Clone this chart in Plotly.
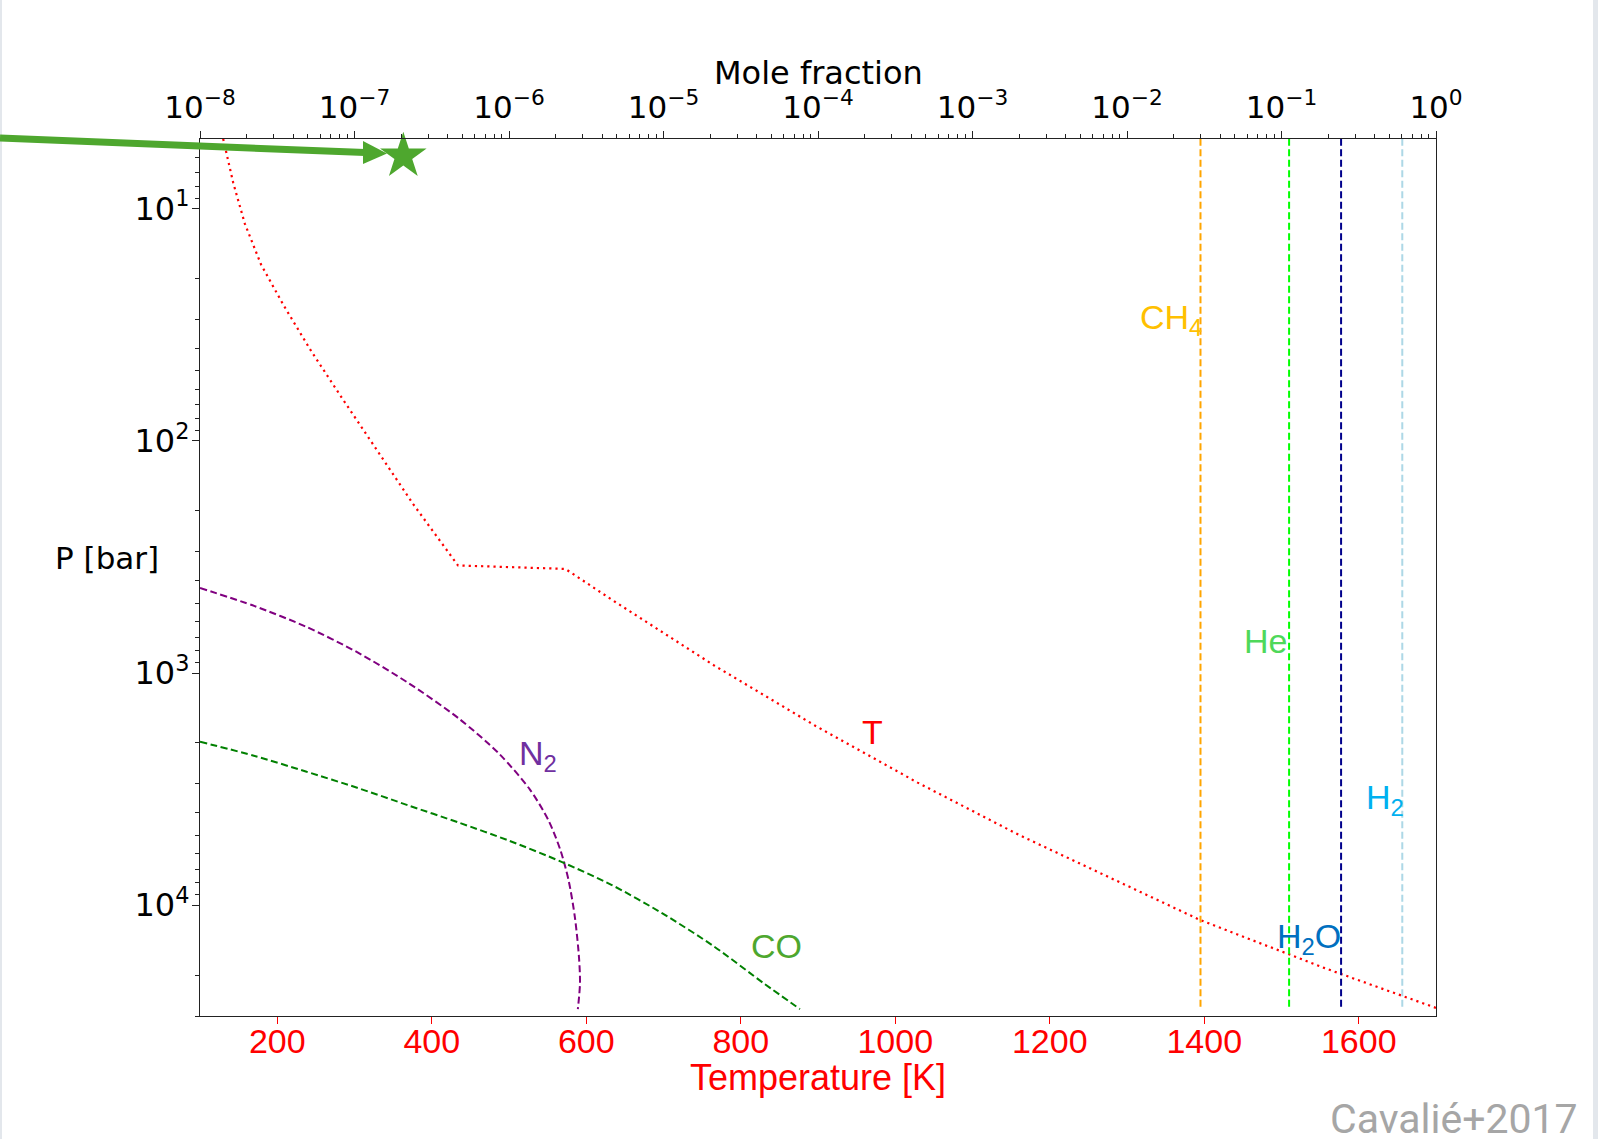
import numpy as np
import plotly.graph_objects as go

# ---------------- data ----------------
# Temperature profile (bottom axis, K) vs pressure (bar)
t_temperature = [130, 143, 158, 179, 208, 244, 283, 327, 376, 434, 573, 633, 765, 897, 1029, 1160, 1292, 1395, 1556, 1700]
t_pressure    = [5.0, 7.74, 11.6, 17.4, 26.0, 41.1, 64.8, 107.5, 187.4, 344, 356, 483, 925, 1690, 2965, 4977, 8000, 11590, 18660, 27670]

# N2 mole fraction profile
n2_fraction = [1.0e-8, 2.26e-8, 4.84e-8, 1.04e-7, 2.21e-7, 4.72e-7, 8.67e-7, 1.37e-6, 1.80e-6, 2.16e-6, 2.44e-6, 2.67e-6, 2.84e-6, 2.88e-6, 2.79e-6]
n2_pressure = [430, 515, 631, 813, 1099, 1567, 2233, 3184, 4306, 5834, 7907, 11270, 16870, 21730, 28000]

# CO mole fraction profile
co_fraction = [1.0e-8, 2.26e-8, 4.84e-8, 1.04e-7, 2.21e-7, 4.72e-7, 1.01e-6, 2.15e-6, 4.60e-6, 9.84e-6, 2.10e-5, 4.49e-5, 7.64e-5]
co_pressure = [1977, 2275, 2655, 3119, 3707, 4403, 5284, 6471, 8166, 10840, 14970, 21770, 28000]

# constant mole fractions
species_names = ["CH4", "He", "H2O", "H2"]
species_fraction = [0.0299, 0.112, 0.243, 0.605]
species_colors = ["#FFA500", "#00FF00", "#00008B", "#ADD8E6"]
column_pressure = [5.0, 28000]

# star (observation point)
star_fraction = [2.07e-7]
star_pressure = [5.94]

temp_ticks = [200, 400, 600, 800, 1000, 1200, 1400, 1600]
frac_exponents = [-8, -7, -6, -5, -4, -3, -2, -1, 0]
pres_exponents = [1, 2, 3, 4]

# ---------------- layout geometry ----------------
W, H = 1598, 1139
L, R, TOP, BOT = 200, 1436, 139, 1016


def px(x):
    return (x - L) / (R - L)


def py(y):
    return (BOT - y) / (BOT - TOP)


def pow_label(e):
    s = str(e).replace("-", "\u2212")
    return f"10<sup>{s}</sup>"


DASH = "7px,3.5px"
fig = go.Figure()

# vertical constant-abundance lines
for name, val, col in zip(species_names, species_fraction, species_colors):
    fig.add_trace(go.Scatter(
        x=[val] * len(column_pressure), y=column_pressure, mode="lines",
        line=dict(color=col, width=2, dash=DASH), xaxis="x2", yaxis="y",
        showlegend=False, hoverinfo="skip"))

fig.add_trace(go.Scatter(x=n2_fraction, y=n2_pressure, mode="lines",
                         line=dict(color="#800080", width=2, dash=DASH, shape="spline", smoothing=0.8),
                         xaxis="x2", yaxis="y", showlegend=False))
fig.add_trace(go.Scatter(x=co_fraction, y=co_pressure, mode="lines",
                         line=dict(color="#008000", width=2, dash=DASH, shape="spline", smoothing=0.8),
                         xaxis="x2", yaxis="y", showlegend=False))
fig.add_trace(go.Scatter(x=t_temperature, y=t_pressure, mode="lines",
                         line=dict(color="#FF0000", width=2.2, dash="2.2px,4px"),
                         xaxis="x", yaxis="y", showlegend=False))
fig.add_trace(go.Scatter(x=star_fraction, y=star_pressure, mode="markers",
                         marker=dict(symbol="star", size=35, color="#4EA72E", line=dict(width=0)),
                         xaxis="x2", yaxis="y", cliponaxis=False, showlegend=False))

# arrow (decoration, paper coordinates)
ARROW = "#4EA72E"
tail = (0, 138)
tip = (387, 153.5)
base = (363, 152.6)
fig.add_shape(type="line", xref="paper", yref="paper",
              x0=px(tail[0]), y0=py(tail[1]), x1=px(base[0] + 2), y1=py(base[1]),
              line=dict(color=ARROW, width=7))
hw = 11.5
fig.add_shape(type="path", xref="paper", yref="paper",
              path=f"M {px(tip[0])} {py(tip[1])} L {px(base[0])} {py(base[1] - hw)} L {px(base[0])} {py(base[1] + hw)} Z",
              fillcolor=ARROW, line=dict(color=ARROW, width=0))

# slide border bands
fig.add_shape(type="rect", xref="paper", yref="paper", x0=px(0), x1=px(2), y0=py(H), y1=py(0),
              fillcolor="#E3E7EC", line=dict(width=0), layer="below")
fig.add_shape(type="rect", xref="paper", yref="paper", x0=px(1593), x1=px(W), y0=py(H), y1=py(0),
              fillcolor="#E3E7EC", line=dict(width=0), layer="below")

DJ = "DejaVu Sans"
LS = "Liberation Sans, Arial, sans-serif"
AX = "#222222"

fig.update_layout(
    width=W, height=H,
    margin=dict(l=L, r=W - R, t=TOP, b=H - BOT, pad=0),
    paper_bgcolor="white", plot_bgcolor="white",
    showlegend=False,
    xaxis=dict(type="linear", range=[100, 1700], tickvals=temp_ticks, ticktext=[str(t) for t in temp_ticks],
               ticks="outside", ticklen=7, tickwidth=1, tickcolor="#FF0000",
               tickfont=dict(family=LS, size=34, color="#FF0000"), ticklabelstandoff=-12,
               showline=True, linecolor=AX, linewidth=1.3, showgrid=False, zeroline=False,
               automargin=False, anchor="y", side="bottom"),
    xaxis2=dict(type="log", range=[-8, 0],
                tickvals=[10.0 ** e for e in frac_exponents], ticktext=[pow_label(e) for e in frac_exponents],
                overlaying="x", side="top", anchor="y",
                ticks="outside", ticklen=7, tickwidth=1, tickcolor=AX,
                minor=dict(ticks="outside", ticklen=4, tickwidth=1, tickcolor=AX, dtick="D1", showgrid=False),
                tickfont=dict(family=DJ, size=31, color="black"), ticklabelstandoff=0,
                showline=True, linecolor=AX, linewidth=1.3, showgrid=False, zeroline=False,
                automargin=False),
    yaxis=dict(type="log", range=[4.477, 0.70],
               tickvals=[10.0 ** e for e in pres_exponents], ticktext=[pow_label(e) for e in pres_exponents],
               ticks="outside", ticklen=7, tickwidth=1, tickcolor=AX,
               minor=dict(ticks="outside", ticklen=4, tickwidth=1, tickcolor=AX, dtick="D1", showgrid=False),
               tickfont=dict(family=DJ, size=32, color="black"), ticklabelstandoff=-4,
               showline=True, linecolor=AX, linewidth=1.3, mirror=True, showgrid=False, zeroline=False,
               automargin=False),
)

annots = [
    # axis titles
    dict(text="Mole fraction", xref="paper", yref="paper", x=px(818), y=py(73),
         font=dict(family=DJ, size=32, color="black")),
    dict(text="Temperature [K]", xref="paper", yref="paper", x=px(818), y=py(1077),
         font=dict(family=LS, size=36, color="#FF0000")),
    dict(text="P [bar]", xref="paper", yref="paper", x=px(107), y=py(558),
         font=dict(family=DJ, size=31, color="black")),
    dict(text="Cavalié+2017", xref="paper", yref="paper", x=px(1454), y=py(1119),
         font=dict(family="Roboto, sans-serif", size=41, color="#A6A6A6")),
    # curve labels
    dict(text="CH<sub>4</sub>", xref="x2", yref="y", x=np.log10(0.0194), y=np.log10(30.0),
         font=dict(family=LS, size=34, color="#FFC000")),
    dict(text="He", xref="x2", yref="y", x=np.log10(0.0793), y=np.log10(726),
         font=dict(family=LS, size=34, color="#4ED85A")),
    dict(text="H<sub>2</sub>O", xref="x2", yref="y", x=np.log10(0.151), y=np.log10(13900),
         font=dict(family=LS, size=34, color="#0070C0")),
    dict(text="H<sub>2</sub>", xref="x2", yref="y", x=np.log10(0.468), y=np.log10(3516),
         font=dict(family=LS, size=34, color="#00B0F0")),
    dict(text="N<sub>2</sub>", xref="x2", yref="y", x=np.log10(1.545e-6), y=np.log10(2275),
         font=dict(family=LS, size=34, color="#7030A0")),
    dict(text="CO", xref="x2", yref="y", x=np.log10(5.40e-5), y=np.log10(14930),
         font=dict(family=LS, size=34, color="#4EA72E")),
    dict(text="T", xref="x", yref="y", x=971, y=np.log10(1786),
         font=dict(family=LS, size=34, color="#FF0000")),
]
for a in annots:
    fig.add_annotation(showarrow=False, xanchor="center", yanchor="middle", **a)

fig.write_html("out.html", config={"displayModeBar": False},
               post_script="document.body.style.margin='0';document.body.style.overflow='hidden';")
